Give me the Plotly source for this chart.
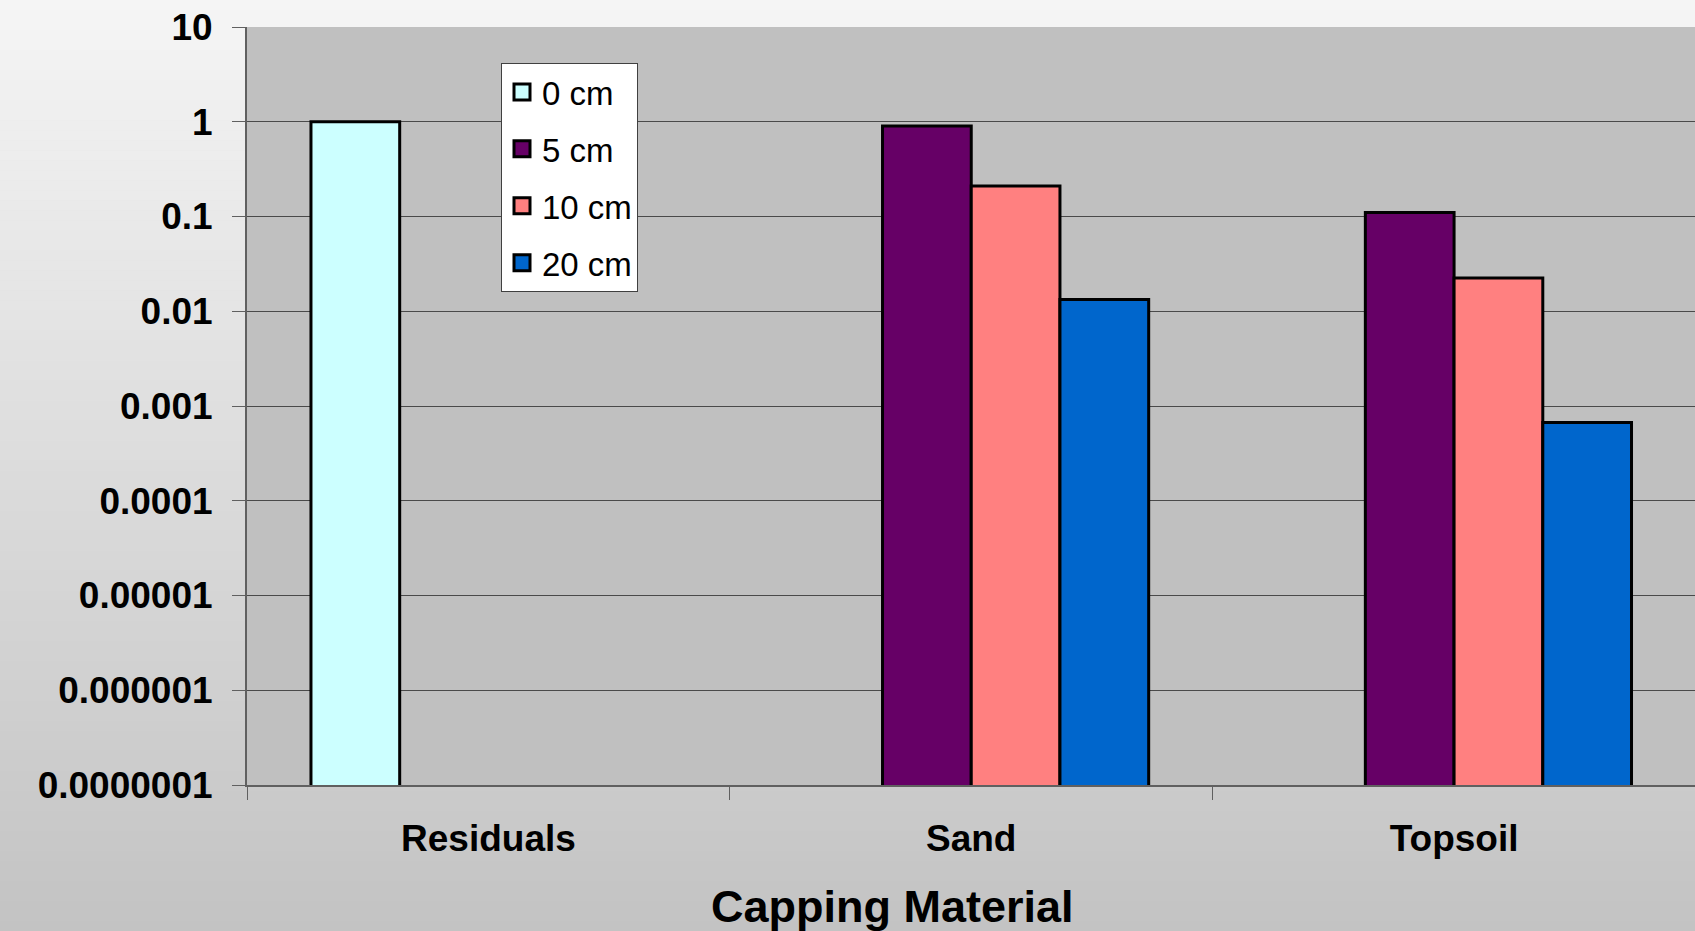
import plotly.graph_objects as go

# ---- data ----
categories = ["Residuals", "Sand", "Topsoil"]
series_names = ["0 cm", "5 cm", "10 cm", "20 cm"]
vals_0cm = [1.0, None, None]
vals_5cm = [None, 0.9, 0.11]
vals_10cm = [None, 0.21, 0.0224]
vals_20cm = [None, 0.0133, 0.00067]
series_values = [vals_0cm, vals_5cm, vals_10cm, vals_20cm]
series_colors = ["#CCFFFF", "#660066", "#FF8080", "#0066CC"]
ytick_vals = [1e-7, 1e-6, 1e-5, 1e-4, 1e-3, 1e-2, 1e-1, 1, 10]
ytick_text = ["0.0000001", "0.000001", "0.00001", "0.0001", "0.001", "0.01", "0.1", "1", "10"]
x_title = "Capping Material"

W, H = 1695, 931
L, R, T, B = 247, 0, 27, 146
PW, PH = W - L - R, H - T - B
FONT = "Liberation Sans, Arial, Helvetica, sans-serif"


def px_x(px):
    return (px - L) / PW


def px_y(py):
    return (H - B - py) / PH


fig = go.Figure()
for name, vals, col in zip(series_names, series_values, series_colors):
    fig.add_trace(go.Bar(
        x=categories, y=vals, name=name, showlegend=False, legendgroup=name,
        marker=dict(color=col, line=dict(color="black", width=3)),
    ))
for name, col in zip(series_names, series_colors):
    fig.add_trace(go.Scatter(
        x=[None], y=[None], mode="markers", name=name, legendgroup=name,
        marker=dict(symbol="square", size=16, color=col, line=dict(color="black", width=3)),
    ))

# background vertical gradient over the whole page
shapes = []
n = 93
step = H / n
for i in range(n):
    t = (i + 0.5) / n
    v = round(245 - (245 - 195) * t)
    shapes.append(dict(type="rect", xref="paper", yref="paper", layer="below",
                       x0=px_x(0), x1=px_x(W),
                       y0=px_y((i + 1) * step + 0.5), y1=px_y(i * step),
                       line=dict(width=0), fillcolor=f"rgb({v},{v},{v})"))
# plot area fill
shapes.append(dict(type="rect", xref="x domain", yref="y domain", layer="below",
                   x0=0, x1=1, y0=0, y1=1, line=dict(width=0), fillcolor="#C0C0C0"))

fig.update_layout(
    width=W, height=H,
    margin=dict(l=L, r=R, t=T, b=B, pad=0),
    paper_bgcolor="#dcdcdc",
    plot_bgcolor="#C0C0C0",
    barmode="group", bargap=0.265, bargroupgap=0,
    shapes=shapes,
    showlegend=True,
    legend=dict(
        x=px_x(501), y=px_y(63), xanchor="left", yanchor="top",
        bgcolor="white", bordercolor="#404040", borderwidth=1,
        font=dict(family=FONT, size=33, color="black"),
        tracegroupgap=11, itemsizing="trace",
    ),
    xaxis=dict(
        type="category", range=[-0.5, 2.499],
        showgrid=False, showline=True, linecolor="#606060", linewidth=2,
        ticks="outside", ticklen=13, tickcolor="#606060", tickwidth=1,
        tickson="boundaries", ticklabelstandoff=20,
        tickfont=dict(family=FONT, size=37, color="black", weight="bold"),
    ),
    yaxis=dict(
        type="log", range=[-7, 1],
        tickvals=ytick_vals, ticktext=ytick_text,
        showgrid=True, gridcolor="#4a4a4a", gridwidth=1,
        showline=True, linecolor="#606060", linewidth=2,
        ticks="outside", ticklen=13, tickcolor="#606060", tickwidth=1,
        ticklabelstandoff=12,
        tickfont=dict(family=FONT, size=37, color="black", weight="bold"),
        zeroline=False,
    ),
    annotations=[dict(
        text=x_title, xref="paper", yref="paper", x=px_x(892.5), y=px_y(906),
        xanchor="center", yanchor="middle", showarrow=False,
        font=dict(family=FONT, size=45, color="black", weight="bold"),
    )],
)

fig.write_html("out.html", config={"displayModeBar": False},
               post_script="document.body.style.margin='0';")
